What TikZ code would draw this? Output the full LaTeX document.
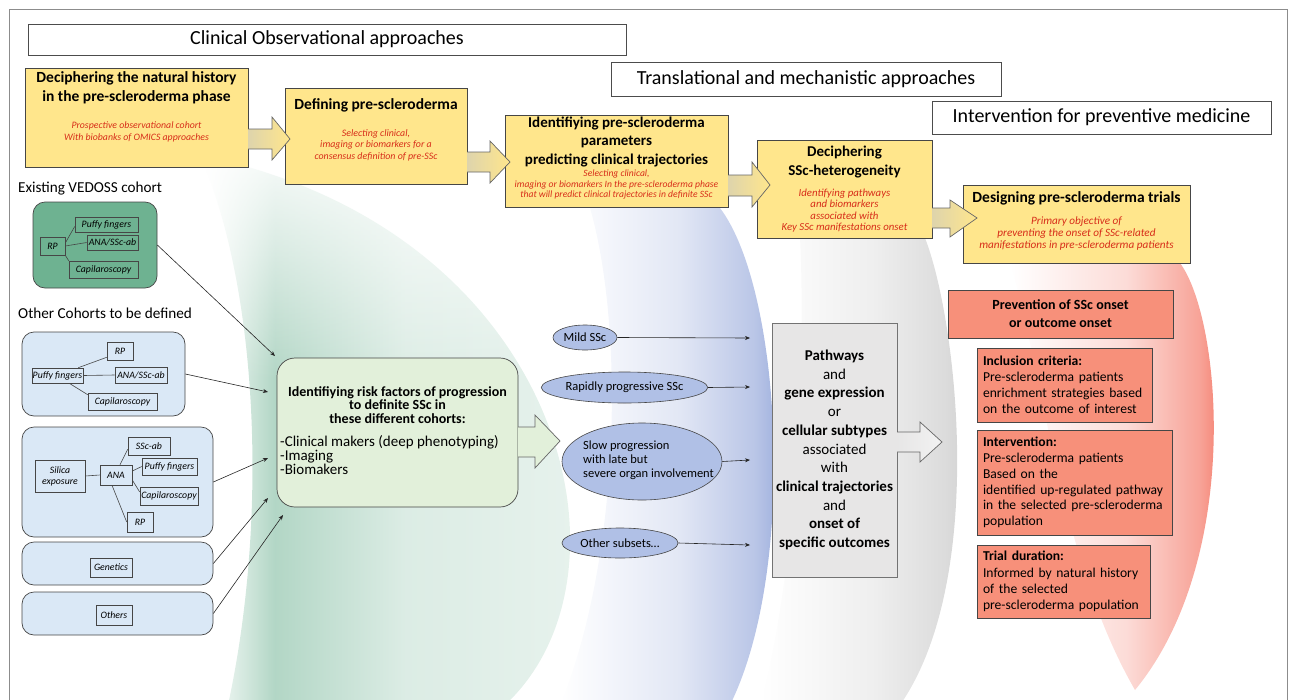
\documentclass[tikz,border=0pt]{standalone}
\usepackage{fontspec}
\setmainfont{Carlito}
\usetikzlibrary{arrows.meta,shapes.geometric,calc,fadings}
\newcommand\myfs[2]{\fontsize{#1}{#2}\selectfont}
\definecolor{yel}{RGB}{255,230,140}
\definecolor{arrL}{RGB}{222,212,172}
\definecolor{redtxt}{RGB}{215,45,25}
\definecolor{bordr}{RGB}{70,70,70}
\definecolor{vgreen}{RGB}{110,178,145}
\definecolor{lblue}{RGB}{218,232,246}
\definecolor{lgreen}{RGB}{226,240,218}
\definecolor{ellblue}{RGB}{176,192,230}
\definecolor{lgray}{RGB}{231,230,230}
\definecolor{salmon}{RGB}{247,144,122}
\definecolor{gDk}{RGB}{95,170,135}
\definecolor{bDk}{RGB}{140,160,215}
\definecolor{rDk}{RGB}{242,95,75}
\definecolor{grDk}{RGB}{200,200,200}
\colorlet{g60}{gDk!48!white}
\colorlet{g30}{gDk!22!white}
\colorlet{g18}{gDk!13!white}
\colorlet{b25}{bDk!25!white}
\colorlet{b60}{bDk!60!white}
\colorlet{r25}{rDk!22!white}
\colorlet{r60}{rDk!58!white}
\colorlet{gr25}{grDk!30!white}
\colorlet{gr60}{grDk!65!white}
\pgfdeclarehorizontalshading{greenarc}{100bp}{color(0bp)=(white); color(25bp)=(white); color(33bp)=(g60); color(48bp)=(g30); color(75bp)=(g18); color(100bp)=(g18)}
\pgfdeclarehorizontalshading{bluearc}{100bp}{color(0bp)=(white); color(25bp)=(white); color(50bp)=(b25); color(66bp)=(b60); color(75bp)=(bDk); color(100bp)=(bDk)}
\pgfdeclarehorizontalshading{redarc}{100bp}{color(0bp)=(white); color(25bp)=(white); color(50bp)=(r25); color(66bp)=(r60); color(75bp)=(rDk); color(100bp)=(rDk)}
\pgfdeclarehorizontalshading{grayarc}{100bp}{color(0bp)=(white); color(25bp)=(white); color(50bp)=(gr25); color(66bp)=(gr60); color(75bp)=(grDk); color(100bp)=(grDk)}
\begin{document}
\begin{tikzpicture}[x=1pt,y=-1pt,
  box/.style={draw=bordr, line width=0.7pt, inner sep=0pt},
  ybox/.style={box, fill=yel},
  hdr/.style={draw=black!70, line width=0.6pt, fill=white, inner sep=0pt, font=\myfs{20}{22}},
  ttl/.style={font=\bfseries\myfs{15.5}{19}, align=center, inner sep=0pt},
  rtxt/.style={font=\itshape\myfs{9.8}{11.5}, text=redtxt, align=center, inner sep=0pt},
  cohort/.style={box, rounded corners=12pt, fill=lblue},
  sm/.style={draw=bordr, line width=0.6pt, inner sep=0pt, font=\itshape\myfs{9.8}{11}, align=center},
  conn/.style={draw=black!85, line width=0.6pt, -{Stealth[length=5pt,width=4pt]}},
  link/.style={draw=bordr, line width=0.6pt},
  barrow/.style={draw=black!60, line width=0.7pt},
  ell/.style={ellipse, draw=bordr, line width=0.6pt, fill=ellblue, inner sep=0pt, font=\myfs{12.5}{14}},
  sal/.style={box, fill=salmon},
  lbl/.style={inner sep=0pt, font=\myfs{15.2}{17}}]
\useasboundingbox (0,0) rectangle (1295,699);
\begin{scope}
\clip (0,0) rectangle (1295,699);
% crescents (right to left)
\shade[shading=redarc] (1010,263) -- (1180,263) .. controls (1222,320) and (1242,560) .. (1135,690) .. controls (1060,560) and (1045,380) .. (1010,263) -- cycle;
\shade[shading=grayarc] (800,238) -- (925,238) .. controls (957,320) and (987,580) .. (900,705) -- (760,705) .. controls (800,560) and (805,330) .. (800,238) -- cycle;
\shade[shading=bluearc] (590,208) -- (720,208) .. controls (782,290) and (797,570) .. (730,705) -- (560,705) .. controls (620,560) and (625,330) .. (590,208) -- cycle;
\shade[shading=greenarc] (205,167) -- (248,167) .. controls (570,260) and (640,580) .. (505,705) -- (228,705) .. controls (268,520) and (258,300) .. (205,167) -- cycle;
% soften the top of the green crescent
\fill[white, path fading=south, fill opacity=0.85] (150,167) rectangle (575,380);
% frame
\draw[black!45, line width=0.8pt] (9,720) -- (9,9) -- (1287,9) -- (1287,720);
\end{scope}
% headers
\node[hdr, minimum width=598, minimum height=31] (h1) at (327,39.5) {Clinical Observational approaches};
\node[hdr, minimum width=390, minimum height=34] (h2) at (806,79) {Translational and mechanistic approaches};
\node[hdr, minimum width=339, minimum height=33] (h3) at (1101.5,117.5) {Intervention for preventive medicine};
% yellow boxes
\node[ybox, minimum width=223, minimum height=99] (b1) at (136.5,117.5) {};
\node[ybox, minimum width=182, minimum height=96] (b2) at (376,136) {};
\node[ybox, minimum width=223, minimum height=92] (b3) at (616.5,161) {};
\node[ybox, minimum width=175, minimum height=98] (b4) at (844.5,189) {};
\node[ybox, minimum width=227, minimum height=78] (b5) at (1076.5,224) {};
\node[ttl] (b1t) at (136.5,88) {Deciphering the natural history\\in the pre-scleroderma phase};
\node[rtxt] (b1r) at (136.5,132) {Prospective observational cohort\\With biobanks of OMICS approaches};
\node[ttl] (b2t) at (376,105) {Defining pre-scleroderma};
\node[rtxt, font=\itshape\myfs{9.9}{11.5}] (b2r) at (376,145) {Selecting clinical,\\imaging or biomarkers for a\\consensus definition of pre-SSc};
\node[ttl, font=\bfseries\myfs{15}{18.5}] (b3t) at (616.5,141.5) {Identifiying pre-scleroderma\\parameters\\predicting clinical trajectories};
\node[rtxt, font=\itshape\myfs{9.6}{10.5}] (b3r) at (616.5,184.5) {Selecting clinical,\\imaging or biomarkers In the pre-scleroderma phase\\that will predict clinical trajectories in definite SSc};
\node[ttl, font=\bfseries\myfs{15}{19}] (b4t) at (844.5,162.5) {Deciphering\\SSc-heterogeneity};
\node[rtxt, font=\itshape\myfs{10.8}{11.3}] (b4r) at (844.5,210.5) {Identifying pathways\\and biomarkers\\associated with\\Key SSc manifestations onset};
\node[ttl] (b5t) at (1076.5,198) {Designing pre-scleroderma trials};
\node[rtxt, font=\itshape\myfs{11.2}{12}] (b5r) at (1076.5,234) {Primary objective of\\preventing the onset of SSc-related\\manifestations in pre-scleroderma patients};
% yellow block arrows
\shadedraw[barrow, left color=arrL, right color=yel] (248,129) -- (272,129) -- (272,117) -- (290,139) -- (272,160) -- (272,149) -- (248,149);
\shadedraw[barrow, left color=arrL, right color=yel] (467,152) -- (490,152) -- (490,141) -- (510,162) -- (490,183) -- (490,172) -- (467,172);
\shadedraw[barrow, left color=arrL, right color=yel] (728,175) -- (752,175) -- (752,162) -- (770,185) -- (752,207) -- (752,196) -- (728,196);
\shadedraw[barrow, left color=arrL, right color=yel] (932,208) -- (950,208) -- (950,200) -- (977,218) -- (950,237) -- (950,228) -- (932,228);
% cohort labels
\node[lbl, anchor=west] (lab1) at (18,189) {Existing VEDOSS cohort};
\node[lbl, anchor=west] (lab2) at (18,313) {Other Cohorts to be defined};
% VEDOSS cohort
\node[box, rounded corners=12pt, fill=vgreen, minimum width=124, minimum height=86] (ved) at (95,245) {};
\node[sm, minimum width=63, minimum height=15] (vpf) at (106.5,224.5) {Puffy fingers};
\node[sm, minimum width=51, minimum height=15] (vana) at (112.5,242.5) {ANA/SSc-ab};
\node[sm, minimum width=25, minimum height=18] (vrp) at (52.5,246) {RP};
\node[sm, minimum width=69, minimum height=17] (vcap) at (103.5,269.5) {Capilaroscopy};
\draw[link] ($(vrp.east)+(0,-3)$) -- ($(vpf.west)+(0,2)$);
\draw[link] (vrp.east) -- (vana.west);
\draw[link] (vrp.south east) -- (vcap.north west);
% other cohort 1
\node[cohort, minimum width=163, minimum height=84] (oc1) at (103.5,374) {};
\node[sm, minimum width=26, minimum height=18] (orp) at (120,351) {RP};
\node[sm, minimum width=51, minimum height=15] (opf) at (57.5,375.5) {Puffy fingers};
\node[sm, minimum width=52, minimum height=16] (oana) at (141,375) {ANA/SSc-ab};
\node[sm, minimum width=69, minimum height=17] (ocap) at (122.5,401.5) {Capilaroscopy};
\draw[link] ($(opf.north east)+(-5,0)$) -- ($(orp.south west)+(0,-3)$);
\draw[link] (opf.east) -- (oana.west);
\draw[link] ($(opf.south east)+(-14,0)$) -- ($(ocap.north west)+(0,2)$);
% other cohort 2
\node[cohort, minimum width=191, minimum height=110] (oc2) at (117.5,482) {};
\node[sm, minimum width=50, minimum height=32] (ssil) at (60,476) {Silica\\exposure};
\node[sm, minimum width=32, minimum height=20] (sana) at (116,475) {ANA};
\node[sm, minimum width=42, minimum height=18] (sssc) at (149,446) {SSc-ab};
\node[sm, minimum width=55, minimum height=17] (spf) at (169.5,466.5) {Puffy fingers};
\node[sm, minimum width=58, minimum height=18] (scap) at (169,496) {Capilaroscopy};
\node[sm, minimum width=26, minimum height=20] (srp) at (140,522) {RP};
\draw[link] (ssil.east) -- (sana.west);
\draw[link] ($(sana.north)+(4,0)$) -- ($(sssc.south west)+(0,-6)$);
\draw[link] ($(sana.east)+(0,-4)$) -- (spf.west);
\draw[link] ($(sana.east)+(0,5)$) -- ($(scap.west)+(0,-4)$);
\draw[link] ($(sana.south)+(-4,0)$) -- (srp.west);
% other cohorts 3,4
\node[cohort, minimum width=191, minimum height=43] (oc3) at (117.5,563.5) {};
\node[sm, minimum width=42, minimum height=19] (ggen) at (111,567.5) {Genetics};
\node[cohort, minimum width=191, minimum height=43] (oc4) at (117.5,613.5) {};
\node[sm, minimum width=36, minimum height=20] (goth) at (114,615) {Others};
% green main box
\node[box, rounded corners=18pt, fill=lgreen, minimum width=241, minimum height=149] (gmain) at (397.5,432.5) {};
\node[inner sep=0pt, font=\bfseries\myfs{14}{13.5}, align=center] (gmt) at (397.5,405) {Identifiying risk factors of progression\\to definite SSc in\\these different cohorts:};
\node[inner sep=0pt, font=\myfs{15}{14}, align=left, anchor=west] (gml) at (280,455) {-Clinical makers (deep phenotyping)\\-Imaging\\-Biomakers};
\coordinate (c1) at (275,356);
\coordinate (c2) at (268,392);
\coordinate (c3) at (268,458);
\coordinate (c4) at (268,498);
\coordinate (c5) at (283,515);
\draw[conn] (ved.east) -- (c1);
\draw[conn] (oc1.east) -- (c2);
\draw[conn] (oc2.east) -- (c3);
\draw[conn] (oc3.east) -- (c4);
\draw[conn] (oc4.east) -- (c5);
\shadedraw[barrow, left color=lgreen, right color=lgreen] (518,427) -- (535,427) -- (535,415) -- (560,441) -- (535,468) -- (535,457) -- (518,457);
% ellipses
\node[ell, minimum width=64, minimum height=25] (e1) at (585,337.5) {Mild SSc};
\node[ell, minimum width=145, minimum height=31] (e2) at (624.5,387.5) {Rapidly progressive SSc};
\node[ell, minimum width=160, minimum height=77] (e3) at (642,461.5) {};
\node[inner sep=0pt, font=\myfs{12.5}{14}, align=left, anchor=west] (e3t) at (583,460) {Slow progression\\with late but\\severe organ involvement};
\node[ell, minimum width=116, minimum height=30] (e4) at (620,543) {Other subsets\dots};
\coordinate (a1) at (750,338);
\coordinate (a2) at (750,387);
\coordinate (a3) at (750,460);
\coordinate (a4) at (750,545);
\draw[conn] (e1.east) -- (a1);
\draw[conn] (e2.east) -- (a2);
\draw[conn] (e3.east) -- (a3);
\draw[conn] (e4.east) -- (a4);
% gray box
\node[box, draw=black!55, fill=lgray, minimum width=125, minimum height=254, font=\myfs{15}{18.7}, align=center] (gb) at (834.5,450) {\textbf{Pathways}\\and\\\textbf{gene expression}\\or\\\textbf{cellular subtypes}\\associated\\with\\\textbf{clinical trajectories}\\and\\\textbf{onset of}\\\textbf{specific outcomes}};
\shadedraw[barrow, left color=lgray, right color=black!5] (897,432) -- (920,432) -- (920,422) -- (942,442) -- (920,462) -- (920,452) -- (897,452);
% red boxes
\node[sal, minimum width=225, minimum height=48, font=\bfseries\myfs{14}{18}, align=center] (r0) at (1060.5,314) {Prevention of SSc onset\\or outcome onset};
\node[sal, minimum height=74, inner xsep=6pt, text width=163pt, font=\myfs{13.6}{16}, align=left] (r1) at (1064.5,385) {\textbf{Inclusion criteria:}\\Pre-scleroderma patients\\enrichment strategies based\\on the outcome of interest};
\node[sal, minimum height=105, inner xsep=6pt, text width=183pt, font=\myfs{13.6}{15.8}, align=left] (r2) at (1074.5,482.5) {\textbf{Intervention:}\\Pre-scleroderma patients\\Based on the\\identified up-regulated pathway\\in the selected pre-scleroderma\\population};
\node[sal, minimum height=73, inner xsep=6pt, text width=161pt, font=\myfs{13.6}{16.3}, align=left] (r3) at (1063.5,581.5) {\textbf{Trial duration:}\\Informed by natural history\\of the selected\\pre-scleroderma population};
\end{tikzpicture}
\end{document}
